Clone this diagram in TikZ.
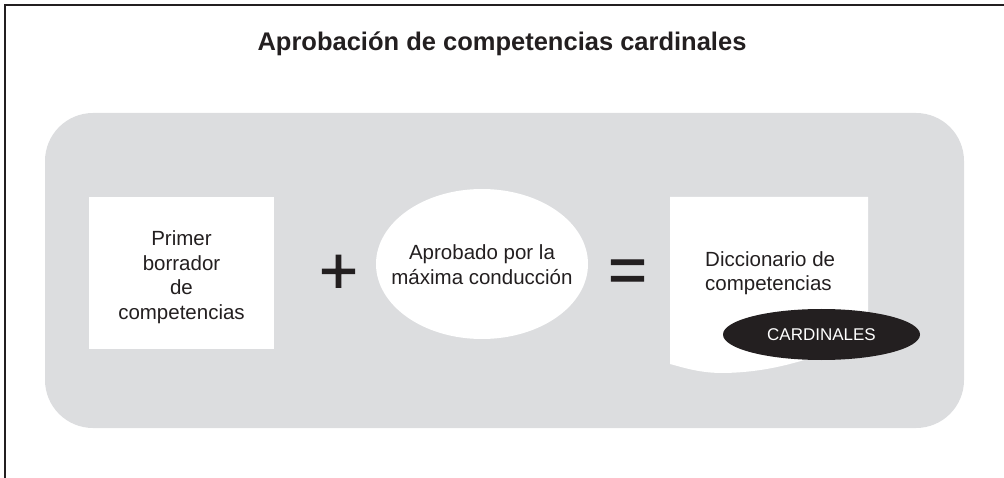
\documentclass[tikz,border=0pt]{standalone}
\usepackage{fontspec}
\setmainfont{Liberation Sans}
\newfontfamily\signfont{Liberation Sans}[FakeBold=1.5]
\usepackage{xcolor}
\usepackage{tikz}
\usetikzlibrary{shapes.geometric, positioning, calc}

\definecolor{panelgray}{RGB}{220,221,223}
\definecolor{inkblack}{RGB}{35,31,32}

\tikzset{
    bodytext/.style={font=\fontsize{20.5}{25}\selectfont, text=inkblack, inner sep=0pt, align=center},
    whitebox/.style={fill=white, inner sep=0pt, minimum width=185pt, minimum height=152pt},
    whiteoval/.style={ellipse, fill=white, inner sep=0pt, minimum width=212pt, minimum height=150pt},
    darkoval/.style={ellipse, fill=inkblack, inner sep=0pt, minimum width=197pt, minimum height=51pt,
        text=white, font=\fontsize{17}{20}\selectfont},
    bigsign/.style={font=\signfont\fontsize{66}{70}\selectfont, text=inkblack, inner sep=0pt, anchor=base}
}

\begin{document}
\begin{tikzpicture}[x=1pt, y=-1pt, >=stealth]
        \useasboundingbox (0,0) rectangle (1004,478);

        % ==========================================
        % FRAME AND TITLE
        % ==========================================
        \draw[line width=1.7pt, inkblack] (5,478) -- (5,5) -- (1004,5);
        \node[font=\bfseries\fontsize{25.5}{30}\selectfont, text=inkblack, inner sep=0pt, anchor=base]
            (title) at (502,51) {Aprobación de competencias cardinales};

        % ==========================================
        % GRAY PANEL
        % ==========================================
        \node[fill=panelgray, rounded corners=48pt, inner sep=0pt,
            minimum width=919pt, minimum height=315pt] (panel) at (504.5,270.5) {};

        % ==========================================
        % LEFT: first draft (square)
        % ==========================================
        \node[whitebox] (borrador) at (181.5,273) {};
        \node[bodytext, font=\fontsize{20.5}{24.5}\selectfont] (borradortxt) at (181.5,277.3)
            {Primer\\borrador\\de\\competencias};

        % Plus sign
        \node[bigsign] (plus) at (338.5,293.3) {+};

        % ==========================================
        % MIDDLE: approval (ellipse)
        % ==========================================
        \node[whiteoval] (aprobado) at (482,264) {};
        \node[bodytext, font=\fontsize{20.5}{25.7}\selectfont] (aprobadotxt) at (482,264.8)
            {Aprobado por la\\máxima conducción};

        % Equals sign
        \node[bigsign] (equal) at (627.5,292.3) {=};

        % ==========================================
        % RIGHT: dictionary (document sheet)
        % ==========================================
        \fill[white] (670,197) -- (868,197) -- (868,345)
            .. controls (820,350) and (790,372) .. (723,373)
            .. controls (700,373) and (685,368) .. (670,364) -- cycle;
        \node[bodytext, align=left, anchor=west, font=\fontsize{20.5}{24}\selectfont]
            (diccionario) at (705,272.8) {Diccionario de\\competencias};

        % Black tag
        \node[darkoval] (cardinales) at (821.5,334.5) {CARDINALES};

\end{tikzpicture}
\end{document}
